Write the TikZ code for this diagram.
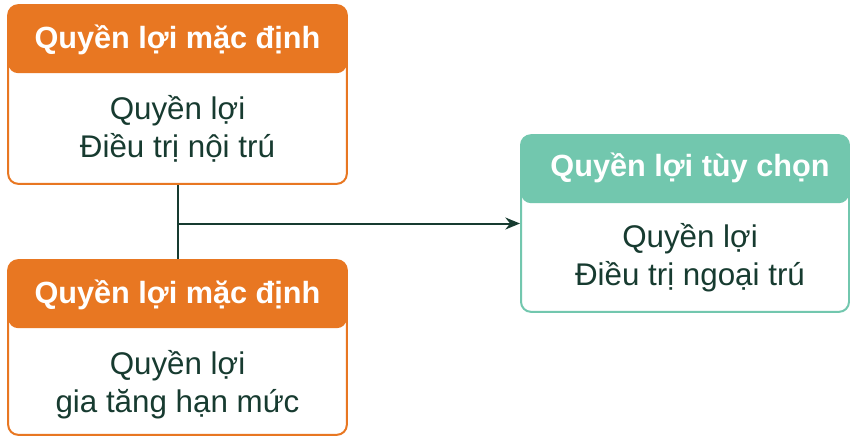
\documentclass[tikz,border=0pt]{standalone}
\usepackage{fontspec}
\setmainfont{Liberation Sans}
\usetikzlibrary{arrows.meta}
\definecolor{cardorange}{HTML}{E87722}
\definecolor{cardteal}{HTML}{72C7AE}
\definecolor{inkgreen}{HTML}{173B30}
\tikzset{
  card/.style={draw=#1, line width=1.5pt, rounded corners=7.5pt, fill=white,
    path picture={\fill[#1] (path picture bounding box.north west) rectangle
      ([yshift=-51pt]path picture bounding box.north east);}},
  headtext/.style={text=white, font=\fontsize{23}{27}\selectfont\bfseries},
  bodytext/.style={text=inkgreen, align=center, font=\fontsize{23.5}{28.5}\selectfont},
  link/.style={draw=inkgreen, line width=1.5pt}
}
\begin{document}
\begin{tikzpicture}[x=0.75pt,y=-0.75pt]
          \useasboundingbox (0,0) rectangle (850,436);
          % cards
          \node[card=cardorange, minimum width=254pt, minimum height=134pt] (inpatient) at (177.5,94.5) {};
          \node[card=cardorange, minimum width=254pt, minimum height=131pt] (limit) at (177.5,347.5) {};
          \node[card=cardteal, minimum width=246pt, minimum height=132.5pt] (outpatient) at (685,223.5) {};
          % headers
          \node[headtext] (inpatienthead) at (177.5,40) {Quyền lợi mặc định};
          \node[headtext] (limithead) at (177.5,295) {Quyền lợi mặc định};
          \node[headtext] (outpatienthead) at (690,168) {Quyền lợi tùy chọn};
          % bodies
          \node[bodytext] (inpatientbody) at (177.5,129) {Quyền lợi\\Điều trị nội trú};
          \node[bodytext] (limitbody) at (177.5,385) {Quyền lợi\\gia tăng hạn mức};
          \node[bodytext] (outpatientbody) at (690,258) {Quyền lợi\\Điều trị ngoại trú};
          % connectors
          \draw[link] (inpatient.south) -- (limit.north);
          \coordinate (joint) at (177.5,223.5);
          \draw[link, -{Stealth[length=11pt, width=9pt]}] (joint) -- (outpatient.west);
        \end{tikzpicture}
\end{document}
